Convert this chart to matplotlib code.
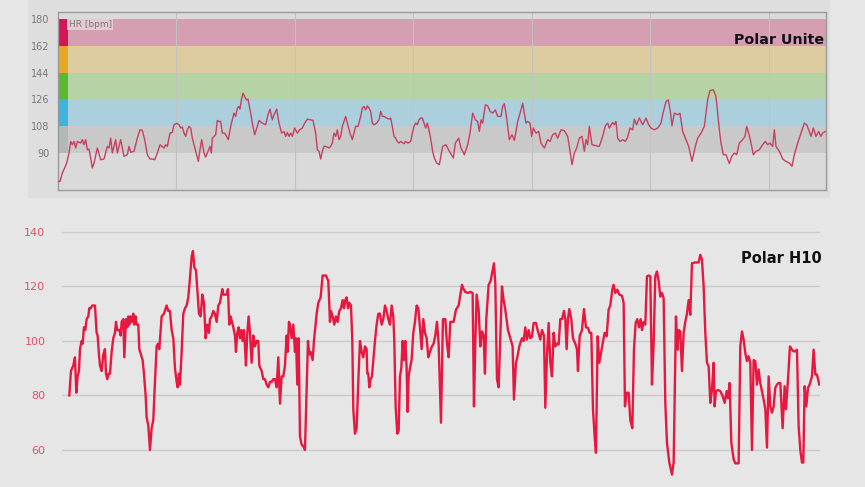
import matplotlib
matplotlib.use("Agg")
import matplotlib.pyplot as plt
import numpy as np

# ---- Polar Unite (top) : x in zoom-pixel units, values bpm
unite_x = [172,178,185,192,198,205,210,215,220,225,230,240,245,250,255,260,265,270,275,280,290,300,310,320,325,330,335,340,345,350,355,360,370,380,385,390,400,410,418,425,432,440,448,455,462,470,478,484,490,495,500,508,515,520,528,535,540,545,550,555,560,565,570,575,585,593,598,603,610,615,620,628,632,635,640,645,650,655,660,665,672,678,683,690,700,705,710,715,718,722,727,732,737,742,750,755,762,770,775,785,795,802,808,815,820,828,835,843,850,855,860,865,870,875,882,890,897,905,912,920,930,937,945,950,955,960,965,970,975,985,990,995,1000,1005,1010,1015,1020,1025,1035,1040,1048,1055,1065,1072,1080,1085,1090,1095,1100,1105,1110,1115,1120,1128,1135,1140,1145,1150,1158,1165,1170,1175,1180,1185,1190,1195,1200,1210,1215,1222,1230,1235,1240,1245,1250,1255,1260,1265,1270,1275,1280,1288,1296]
unite_v = [71,71,76.6,80,83.3,90,97.8,95.6,97.8,93.4,97.8,96.7,99,95.6,99,92.2,92.7,86.7,80,83.3,93.4,85.5,86,94.5,93.4,100,90,94.5,99,90,94.5,99,87.8,88.9,94.5,90.5,91.2,100,105.6,105.2,99,88.9,86,86,85.5,90,95.6,94.5,93.4,95.6,94.5,103.4,103.8,109,110,109,106.8,107.5,103.4,101.2,105.6,107.9,106.8,100,91.2,84.4,92.2,99,90,87.3,90,94.5,90,100,101.2,102.3,111.9,111.2,111.2,103.4,103.4,101.2,99,107.9,116.8,114.6,120.2,121.3,119.5,125.7,130.2,128,125.7,126.2,116.8,110.1,102.3,107.9,111.9,110.1,109,115.7,119.5,112.3,115.7,119.5,110.1,103.4,104.5,101.2,103.8,101.2,103.4,101.2,106.8,103.4,105.6,106.8,110.1,112.8,112.3,111.9,103.4,92.2,91.2,86,91.2,94.5,94.5,93.4,94.5,96.7,103.4,101.2,105.6,99,101.2,107.9,114.6,110.1,103.4,99,107.9,107.9,114.6,120.2,121.3,119,121.7,120.2,118,110.1,109,110.1,112.3,118,114.6,114.6,113.5,112.8,113.5,107.9,101.2,100,97.8,96.7,97.8,96.3,97.8,96.7,97.8,103.4,107.9,110.1,109,112.3,113.5,113.5,110.1,106.8,110.1,102.3,91.2]
unite_x2 = [5,12,20,30,40,50,62,68,78,85,95,105,112,120,128,135,140,145,150,158,165,172,180,188,195,205,210,215,220,225,230,238,245,250,255,265,270,275,280,285,292,297,302,310,318,325,335,345,352,360,368,375,385,395,405,410,418,425,432,440,448,455,460,465,470,478,490,500,510,518,525,530,540,545,550,555,562,570,578,585,592,600,605,612,620,630,640,648,655,665,675,685,690,700,707,713,718,725,735,742,750,760,768,778,788,795,805,815,825,832,842,850,855,860,865,872,880,890,897,905,912,920,930,937,942,948,955,962,970,980,990,998,1005,1012,1020,1025,1030,1040,1050,1060,1070,1078,1085,1095,1105,1115,1122,1128,1135,1142,1150,1158,1165,1170,1178]
unite_v2 = [86.7,83.3,82.2,94.5,95.6,91.2,86.7,96.7,100,93.4,88.9,95.6,103.4,116.8,112.3,111.2,104.5,112.3,110.1,122.4,121.7,118,116.8,119,114.6,114.6,121.3,123.1,116.8,107.9,99,102.3,98.5,104.5,111.2,119,123.5,116.8,110.1,111.2,110.1,101.2,106.8,103.4,104.5,96.7,93.4,99,97.8,102.3,103.4,100,105.6,105,101.2,94.5,82.2,90,93.4,100,101.2,91.2,99,95.6,107.9,95.6,94.9,94.5,101.2,108.3,110.1,106.8,110.5,109,111.2,100,97.8,99,97.8,100.7,106.8,105.6,112.8,109,113.5,109,113.5,109,106.8,105.6,106.8,110.1,115.7,124.6,125.7,118,108.3,116.8,115.7,116.8,104.5,99,94.5,84.4,94.5,100,103.4,107.9,125.7,132,132.4,128,116.8,105.6,96.7,88.9,88.9,83,87.8,90,88.9,96.7,99,101.2,107.9,103.4,96.7,88.9,91.2,92.2,95.6,97.8,95.6,96.7,94.5,105.6,94.5,91.2,86,84.4,83.3,81.1,88.9,96.7,103.4,110.1,109,105.6,101.2,106.8,101.2,104.5,101.2,103.4,104.5]
unite_t = [(x - 172) / 30 for x in unite_x] + [(x + 1296 - 172) / 30 for x in unite_x2]
unite_hr = unite_v + unite_v2

zone_edges = [90, 108, 126, 144, 162, 180]
zone_fill = ["#c9c9c9", "#abcfdc", "#b6d3a6", "#dccc9f", "#d59eb1"]
zone_mark = ["#b2b9b7", "#3db3dd", "#5cb82e", "#e8a823", "#d3155a"]
unite_ticks = [90, 108, 126, 144, 162, 180]

# ---- Polar H10 (bottom)
h10_x = [208,213,220,225,229,233,237,240,245,248,252,256,260,265,268,272,277,285,290,293,297,300,305,310,315,318,322,326,330,335,340,345,348,352,358,362,365,370,373,378,382,385,388,392,396,400,403,407,410,415,418,423,428,432,437,440,445,450,455,460,465,470,474,478,485,492,500,505,510,515,520,525,530,533,537,540,545,550,555,560,565,570,575,579,583,588,593,597,602,607,612,617,622,627,630,635,640,645,650,655,660,667,670,680,684,688,692,696,700,705,708,712,716,720,724,728,732,735,738,742,746,750,755,760,765,770,775,778,785,790,795,800,805,810,815,820,825,830,835,840,845,850,855,860,863,867,870,875,880,885,888,892,896,900,905,912,915,920,924,928,932,938,942,946,950,955,962,968,978,985,990,993,998,1003,1008,1013,1018,1023,1028,1032,1036,1040,1044,1048,1053,1057,1060,1065,1070,1075,1080,1085,1090,1095,1100,1102,1105,1108,1112,1116,1120,1125,1130,1135,1140,1145,1150,1155,1160,1165,1170,1175,1180,1183,1187,1192,1196,1200,1204,1208,1212,1216,1220,1223,1226,1230,1235,1240,1245,1250,1255,1260,1265,1270,1275,1280,1285,1290,1296]
h10_v = [80,89,91,94,81,87,89,97,100,99,105,104,108,109,112,112,113,113,103,102,95,91,89,95,97,88,86,88,88,96,101,103,107,104,104,102,107,108,94,108,105,109,106,109,107,110,106,109,106,106,97,95,93,88,80,72,69,60,68,71,85,98,99,97,109,110,113,111,111,104,101,90,85,83,88,84,96,110,112,113,116,123,131,133,127,126,117,110,109,117,114,101,106,103,108,109,111,110,107,113,114,119,117,117,119,106,109,107,105,102,96,103,105,101,104,100,104,98,91,103,109,103,92,102,98,100,100,91,89,86,86,84,83,85,85,86,86,83,94,77,87,87,91,102,96,107,106,101,106,96,101,84,101,65,62,61,60,83,100,95,96,93,100,105,110,114,116,124,124,122,107,111,109,106,109,107,111,112,115,112,115,116,112,114,113,100,75,66,68,85,100,96,94,98,97,88,88,83,86,87,93,100,106,110,110,106,108,113,111,108,106,113,109,100,76,66,67,87,90,100,93,100,90,74,87,90,93,103,107,113,112,105,97,108,103,101,94,96,98]
h10_x2 = [5,10,15,20,27,33,40,45,50,55,65,72,80,90,95,100,108,115,122,126,130,134,140,145,150,155,159,163,170,176,182,186,190,195,200,205,210,215,220,228,235,242,246,252,256,262,270,275,280,285,290,295,300,305,312,318,325,330,336,340,345,350,355,360,365,370,375,380,385,390,396,400,404,408,412,418,423,430,435,438,443,450,456,462,468,473,478,483,488,492,497,502,507,512,518,524,530,535,541,545,550,556,562,570,575,579,584,590,595,601,606,611,616,621,626,630,635,640,645,650,655,660,665,670,675,680,685,690,695,700,705,712,720,725,732,737,740,745,750,755,760,765,770,775,780,790,800,805,810,815,820,825,830,835,840,845,848,852,858,865,872,878,884,888,893,898,905,910,920,925,930,935,940,945,950,955,960,965,970,975,980,985,990,995,1000,1005,1010,1015,1020,1025,1030,1035,1040,1045,1052,1058,1062,1068,1074,1080,1085,1090,1095,1100,1105,1110,1114,1118,1123,1128,1133,1140,1145,1150,1155,1162]
h10_v2 = [99,102,107,99,70,108,108,99,94,107,107,111.5,113,120.6,119,118,117.6,118,117.6,76,99,117,111.5,98,103.5,102,88,108,120.6,122,126,128.5,121,86,83,101,120,115,111.5,104,101,98,78.5,92,94,98,101,100,105,100.5,104,101,101.5,106.6,106.6,103.5,100.5,104,102,75.5,94.4,106.6,92,87,103,98,99,98.7,108,108,111,108,97,108,111.7,108,101,99,97,89,101.7,104,111.7,105,104.8,103,103,75,65,59,101.7,92,95.6,99,103,101.7,111.5,113,118.8,120.6,117.6,118.8,117,116.6,114,76,81,81,71,68,96.8,106.6,108,105,108,104,107,106,123.7,124,123.7,84,99,123.7,125.5,122,116.3,117.6,115.7,77.3,62.7,55.4,51,55.4,109,96.8,104,103.5,89,103,107,110,115,109.6,128.5,128.8,128.8,131.6,129.8,120,103,92,90.7,77.3,82,92,76,81.6,82,81.6,79.8,77.3,81.6,79,84.6,62.7,56.6,55.1,55.1,98,103.5,100.5,95.6,92.6,94.4,92,60,93,92.6,84,89.5,84.6,81.6,78.5,75,60.9,87,76,73.7,76,82.8,84,84.6,84.6,68,83.4,75,85.8,98,96.8,96.2,96.2,96.8,68.8,60,55.4,55.4,83.4,76,82.8,84,87,96.8,87.7,87.7,84]
h10_t = [(x - 208) / 30 for x in h10_x] + [(x + 1296 - 208) / 30 for x in h10_x2]
h10_hr = h10_v + h10_v2
h10_ticks = [60, 80, 100, 120, 140]

W, H = 865, 487
fig = plt.figure(figsize=(W / 100, H / 100), dpi=100)
fig.patch.set_facecolor("#e6e6e6")

def fa(l, t, r, b, **kw):
    return fig.add_axes([l / W, 1 - b / H, (r - l) / W, (b - t) / H], **kw)

# card behind top chart
bg = fa(28, 0, 830, 198)
bg.set_zorder(-5)
bg.set_facecolor("#dedede")
bg.set_xticks([]); bg.set_yticks([])
for s in bg.spines.values():
    s.set_visible(False)

# top axes
ax1 = fa(58, 12, 826, 190)
ax1.set_facecolor("#dadada")
ax1.set_xlim(0, 76.8)
ax1.set_ylim(65.2, 184.7)
for i in range(5):
    ax1.axhspan(zone_edges[i], zone_edges[i + 1], color=zone_fill[i], lw=0, zorder=1)
    ax1.axhspan(zone_edges[i], zone_edges[i + 1], xmin=0, xmax=10 / 768, color=zone_mark[i], lw=0, zorder=2)
for gx in [11.8, 23.65, 35.5, 47.35, 59.2, 71.05]:
    ax1.axvline(gx, color="#c2c2c2", lw=0.8, zorder=1.5)
ax1.plot(unite_t, unite_hr, color="#c8405e", lw=1.0, zorder=3)
ax1.set_yticks(unite_ticks)
ax1.set_yticklabels([str(v) for v in unite_ticks], fontsize=7, color="#777777")
ax1.tick_params(axis="y", length=0, pad=6)
ax1.set_xticks([])
for s in ax1.spines.values():
    s.set_color("#9a9a9a")
    s.set_linewidth(1)
ax1.text(0.014, 0.955, "HR [bpm]", transform=ax1.transAxes, fontsize=6.5, color="#777777",
         va="top", ha="left", zorder=4,
         bbox=dict(facecolor="#e8d5dc", edgecolor="none", pad=1, alpha=0.8))
ax1.text(0.998, 0.84, "Polar Unite", transform=ax1.transAxes, fontsize=10.3, fontweight="bold",
         color="#111111", ha="right", va="center", zorder=4)

# bottom axes
ax2 = fa(62, 215, 820, 480)
ax2.set_facecolor("none")
ax2.set_xlim(-0.73, 75.07)
ax2.set_ylim(49, 146.2)
ax2.set_yticks(h10_ticks)
ax2.set_yticklabels([str(v) for v in h10_ticks], fontsize=8, color="#e0506a")
ax2.tick_params(axis="y", length=0, pad=12)
ax2.set_xticks([])
ax2.grid(axis="y", color="#cacaca", lw=1)
ax2.set_axisbelow(True)
for s in ax2.spines.values():
    s.set_visible(False)
ax2.plot(h10_t, h10_hr, color="#e8173f", lw=1.7, zorder=3)
ax2.text(1.002, 0.835, "Polar H10", transform=ax2.transAxes, fontsize=10.5, fontweight="bold",
         color="#111111", ha="right", va="center")

fig.savefig("out.png", dpi=100, facecolor=fig.get_facecolor())
